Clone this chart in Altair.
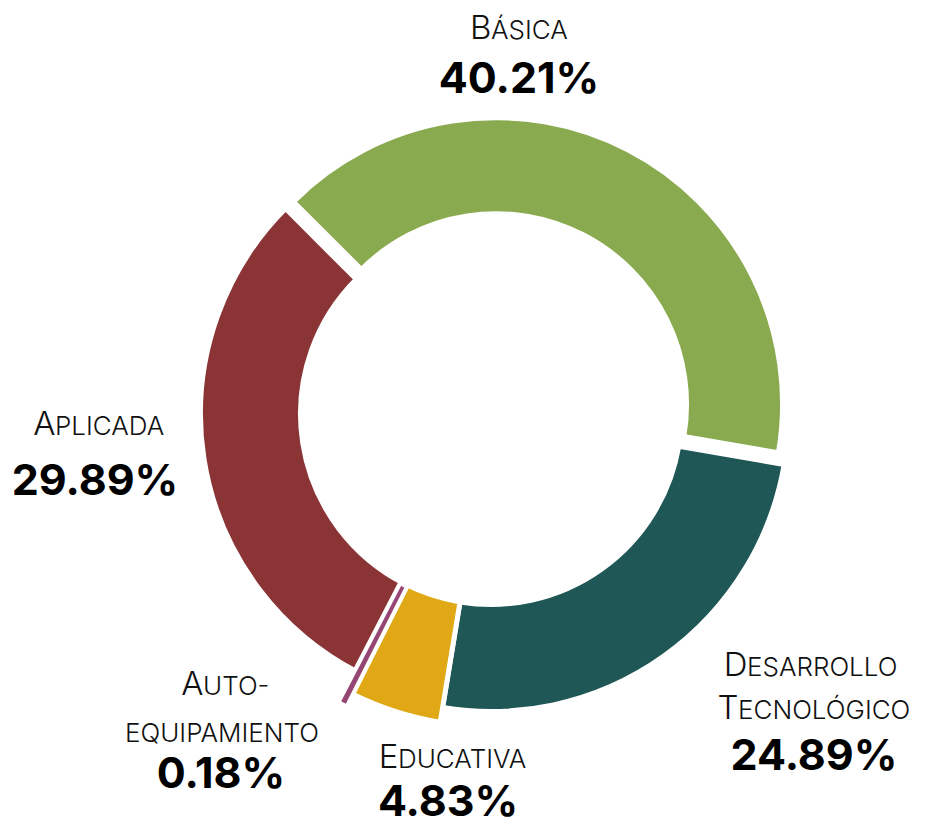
import math
import re
import altair as alt
import pandas as pd

# ---------------- data ----------------
categories = ["Básica", "Desarrollo Tecnológico", "Educativa", "Auto-equipamiento", "Aplicada"]
values = [40.21, 24.89, 4.83, 0.18, 29.89]
pct_labels = ["40.21%", "24.89%", "4.83%", "0.18%", "29.89%"]
colors = ["#8AAA50", "#1F5756", "#E0A814", "#964673", "#8B3436"]

# ---------------- style / layout ----------------
W, H = 922, 819
CX, CY = 483, 406                 # ring centre (chart coords)
START = 7 * math.pi / 4           # first slice starts at -45 deg
STROKE = 5
INNER = 193 - STROKE / 2
outer_r = {                        # visible outer radius per slice
    "Básica": 284, "Desarrollo Tecnológico": 295, "Educativa": 310,
    "Auto-equipamiento": 324, "Aplicada": 288,
}
explode = {"Básica": 11}
FONT = "Inter"
BIG, SMALL, PCT = 33, 26, 43
OFF = 8  # page margin
label_anchor = {   # boundary between the initial capital and the small capitals (page px)
    "Básica": [(491, 39)],
    "Desarrollo Tecnológico": [(747, 676), (738, 719)],
    "Educativa": [(398, 768)],
    "Auto-equipamiento": [(203, 695), (222, 742)],
    "Aplicada": [(55, 435)],
}
pct_anchor = {
    "Básica": (519, 93), "Desarrollo Tecnológico": (814, 770), "Educativa": (448, 816),
    "Auto-equipamiento": (221, 788), "Aplicada": (95, 495),
}


def case_expr(mapping, default):
    parts = [f"datum.category === '{k}' ? {v}" for k, v in mapping.items()]
    return " : ".join(parts) + f" : {default}"


df = pd.DataFrame({"category": categories, "value": values, "order": list(range(len(values)))})

enc = dict(
    theta=alt.Theta("t0:Q", scale=alt.Scale(domain=[0, 1], range=[START, START + 2 * math.pi]), stack=None),
    theta2=alt.Theta2("t1:Q"),
    radius=alt.Radius("rout:Q", scale=None, stack=None),
    x=alt.X("px:Q", scale=None, stack=None),
    y=alt.Y("py:Q", scale=None, stack=None),
)
color = alt.Color("category:N", scale=alt.Scale(domain=categories, range=colors), legend=None)

main = alt.Chart().mark_arc(innerRadius=INNER, stroke="white", strokeWidth=STROKE).encode(
    color=color, **enc
).transform_filter("datum.category !== 'Auto-equipamiento'")

band = alt.Chart().mark_arc(innerRadius=194, fill="white", stroke="white", strokeWidth=10).encode(
    **enc
).transform_filter("datum.category === 'Auto-equipamiento'")

tiny = alt.Chart().mark_arc(innerRadius=194.75, strokeWidth=1.5).encode(
    color=color, stroke=alt.Color("category:N", scale=alt.Scale(domain=categories, range=colors), legend=None), **enc
).transform_filter("datum.category === 'Auto-equipamiento'")

arcs = alt.layer(main, band, tiny, data=df).transform_joinaggregate(
    total="sum(value)"
).transform_window(
    cum="sum(value)", sort=[alt.SortField("order", order="ascending")], frame=[None, 0]
).transform_calculate(
    t1="datum.cum / datum.total",
    t0="(datum.cum - datum.value) / datum.total",
).transform_calculate(
    mid=f"{START} + PI * (datum.t0 + datum.t1)",
    ex=case_expr(explode, 0),
    rout=case_expr({k: (v - 0.75 if k == 'Auto-equipamiento' else v + STROKE / 2) for k, v in outer_r.items()}, 290),
).transform_calculate(
    px=f"{CX} + datum.ex * sin(datum.mid)",
    py=f"{CY} - datum.ex * cos(datum.mid)",
)

# ---------------- labels ----------------
rows_first, rows_rest, rows_center, rows_pct = [], [], [], []
for cat, pct in zip(categories, pct_labels):
    lines = [s for s in re.split(r"(?<=-)|\s+", cat) if s]
    for line, (x, y) in zip(lines, label_anchor[cat]):
        if line[0].isupper():
            rows_first.append({"t": line[0], "x": x - OFF + 0.5, "y": y - OFF})
            rows_rest.append({"t": line[1:].upper(), "x": x - OFF, "y": y - OFF})
        else:
            rows_center.append({"t": line.upper(), "x": x - OFF, "y": y - OFF})
    px_, py_ = pct_anchor[cat]
    rows_pct.append({"t": pct, "x": px_ - OFF, "y": py_ - OFF})

pos = dict(x=alt.X("x:Q", scale=None), y=alt.Y("y:Q", scale=None), text="t:N")

first = alt.Chart(pd.DataFrame(rows_first)).mark_text(
    align="right", baseline="alphabetic", font=FONT, fontWeight=300, fontSize=BIG, color="#111111"
).encode(**pos)
rest = alt.Chart(pd.DataFrame(rows_rest)).mark_text(
    align="left", baseline="alphabetic", font=FONT, fontWeight=300, fontSize=SMALL, color="#111111"
).encode(**pos)
center = alt.Chart(pd.DataFrame(rows_center)).mark_text(
    align="center", baseline="alphabetic", font=FONT, fontWeight=300, fontSize=SMALL, color="#111111"
).encode(**pos)
pcts = alt.Chart(pd.DataFrame(rows_pct)).mark_text(
    align="center", baseline="alphabetic", font=FONT, fontWeight="bold", fontSize=PCT, color="black"
).encode(**pos)

chart = alt.layer(arcs, first, rest, center, pcts).properties(
    width=W, height=H, padding=0, autosize=alt.AutoSizeParams(type="none")
).configure_view(stroke=None)

chart.save("out.html", embed_options={"renderer": "svg", "actions": False})
